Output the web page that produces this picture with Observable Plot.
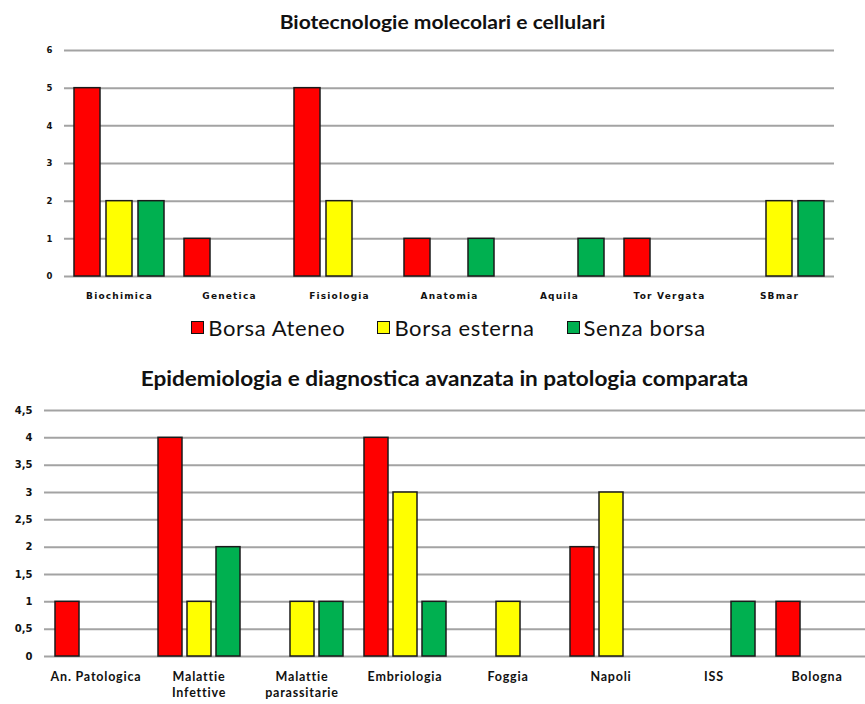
<!DOCTYPE html>
<html>
<head>
<meta charset="utf-8">
<script src="https://cdn.jsdelivr.net/npm/d3@7"></script>
<script src="https://cdn.jsdelivr.net/npm/@observablehq/plot@0.6"></script>
<style>
  html, body { margin: 0; padding: 0; background: #fff; }
  #page { position: relative; width: 865px; height: 704px; overflow: hidden; font-family: Lato, "Open Sans", sans-serif; }
  .title { position: absolute; left: 0; width: 865px; text-align: center; font-weight: bold; color: #111; white-space: nowrap; font-family: Lato, sans-serif; transform-origin: 50% 50%; }
  .chart { position: absolute; left: 0; }
  #legend { position: absolute; left: 16px; width: 865px; top: 314px; display: flex; justify-content: center; gap: 32px; font-size: 22px; letter-spacing: 0.6px; color: #111; font-family: Lato, sans-serif; }
  .item { display: flex; align-items: center; gap: 4px; }
  .sw { width: 11px; height: 11px; border: 1.5px solid #111; }
</style>
</head>
<body>
<div id="page">
  <div class="title" id="t1" style="top:11px;left:10px;font-size:18px;transform:scaleX(1.17);">Biotecnologie molecolari e cellulari</div>
  <div class="chart" id="c1" style="top:0px;"></div>
  <div id="legend"></div>
  <div class="title" id="t2" style="top:366px;left:12px;font-size:20px;transform:scaleX(1.13);">Epidemiologia e diagnostica avanzata in patologia comparata</div>
  <div class="chart" id="c2" style="top:390px;"></div>
</div>
<script>
// ---- data ----
const series = ["Borsa Ateneo", "Borsa esterna", "Senza borsa"];
const seriesColors = ["#ff0000", "#ffff00", "#00b050"];

const categories1 = ["Biochimica", "Genetica", "Fisiologia", "Anatomia", "Aquila", "Tor Vergata", "SBmar"];
const borsaAteneo1 = [5, 1, 5, 1, 0, 1, 0];
const borsaEsterna1 = [2, 0, 2, 0, 0, 0, 2];
const senzaBorsa1 = [2, 0, 0, 1, 1, 0, 2];
const yTicks1 = [0, 1, 2, 3, 4, 5, 6];

const categories2 = ["An. Patologica", "Malattie Infettive", "Malattie parassitarie", "Embriologia", "Foggia", "Napoli", "ISS", "Bologna"];
const labels2 = ["An. Patologica", "Malattie\nInfettive", "Malattie\nparassitarie", "Embriologia", "Foggia", "Napoli", "ISS", "Bologna"];
const borsaAteneo2 = [1, 4, 0, 4, 0, 2, 0, 1];
const borsaEsterna2 = [0, 1, 1, 3, 1, 3, 0, 0];
const senzaBorsa2 = [0, 2, 1, 1, 0, 0, 1, 0];
const yTicks2 = [0, 0.5, 1, 1.5, 2, 2.5, 3, 3.5, 4, 4.5];

function toRows(cats, arrays) {
  const rows = [];
  cats.forEach((c, i) => arrays.forEach((arr, s) => {
    if (arr[i] > 0) rows.push({cat: c, series: series[s], value: arr[i]});
  }));
  return rows;
}

function chart({cats, rows, yTicks, height, marginTop, marginBottom, marginLeft, fxRange, fxFormat, fxFont, fxFamily, fxSpacing, fxPad, yFormat, yFont}) {
  const svg = Plot.plot({
    width: 865,
    height,
    marginTop, marginBottom, marginLeft, marginRight: 30,
    style: {fontFamily: '"DejaVu Sans", sans-serif', color: "#111", background: "transparent", overflow: "hidden"},
    fx: {domain: cats, padding: 0, range: fxRange, label: null, axis: null},
    x: {domain: series, paddingInner: 0.1875, paddingOuter: 0.3125, axis: null},
    y: {domain: [0, yTicks[yTicks.length - 1]], label: null, axis: null},
    color: {domain: series, range: seriesColors},
    marks: [
      Plot.ruleY(yTicks, {stroke: "#a3a3a3", strokeWidth: 2}),
      Plot.barY(rows, {fx: "cat", x: "series", y: "value", fill: "series", stroke: "#1a1a1a", strokeWidth: 1.5}),
      Plot.axisFx({anchor: "bottom", tickSize: 0, tickPadding: fxPad, tickFormat: fxFormat, label: null, fontSize: fxFont, fontWeight: "bold", fontFamily: fxFamily, lineHeight: 1.3, className: "fxax"}),
      Plot.axisY({ticks: yTicks, tickSize: 0, tickPadding: 12, tickFormat: yFormat, label: null, fontSize: yFont, fontWeight: "bold", facetAnchor: "left"})
    ]
  });
  svg.querySelectorAll("[aria-label='fx-axis tick label'] text, .fxax text").forEach(t => t.style.letterSpacing = fxSpacing);
  return svg;
}

document.getElementById("c1").append(chart({
  cats: categories1,
  rows: toRows(categories1, [borsaAteneo1, borsaEsterna1, senzaBorsa1]),
  yTicks: yTicks1,
  height: 310, marginTop: 50, marginBottom: 34, marginLeft: 62,
  fxRange: [62, 835],
  fxFormat: d => d,
  fxFont: 9, fxFamily: '"DejaVu Sans", sans-serif', fxSpacing: "1.2px", fxPad: 14,
  yFormat: d => String(d),
  yFont: 8.5
}));

document.getElementById("c2").append(chart({
  cats: categories2,
  rows: toRows(categories2, [borsaAteneo2, borsaEsterna2, senzaBorsa2]),
  yTicks: yTicks2,
  height: 314, marginTop: 20, marginBottom: 48, marginLeft: 41,
  fxRange: [41, 870],
  fxFormat: d => labels2[categories2.indexOf(d)],
  fxFont: 12.5, fxFamily: 'Lato, sans-serif', fxSpacing: "0.8px", fxPad: 13,
  yFormat: d => String(d).replace(".", ","),
  yFont: 10
}));

const legend = document.getElementById("legend");
series.forEach((s, i) => {
  const item = document.createElement("div");
  item.className = "item";
  const sw = document.createElement("span");
  sw.className = "sw";
  sw.style.background = seriesColors[i];
  const tx = document.createElement("span");
  tx.textContent = s;
  item.append(sw, tx);
  legend.append(item);
});
</script>
</body>
</html>
